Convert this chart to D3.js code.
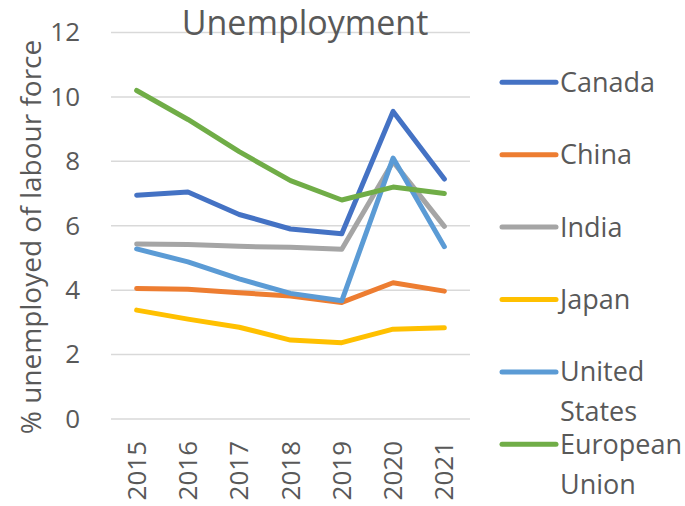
<!DOCTYPE html>
<html>
<head>
<meta charset="utf-8">
<script src="https://cdn.jsdelivr.net/npm/d3@7"></script>
<style>
  html, body { margin: 0; padding: 0; background: #fff; }
  svg { display: block; font-family: "Open Sans", "Noto Sans", sans-serif; }
</style>
</head>
<body>
<svg id="chart" width="685" height="506"></svg>
<script>
// Unemployment rate, % of labour force
const years = ["2015", "2016", "2017", "2018", "2019", "2020", "2021"];
const seriesNames = ["Canada", "China", "India", "Japan", "United States", "European Union"];
const canada = [6.95, 7.05, 6.35, 5.9, 5.75, 9.55, 7.45];
const china  = [4.05, 4.03, 3.92, 3.82, 3.62, 4.23, 3.97];
const india  = [5.43, 5.42, 5.36, 5.33, 5.27, 7.99, 5.98];
const japan  = [3.38, 3.1, 2.85, 2.45, 2.37, 2.79, 2.83];
const usa    = [5.28, 4.88, 4.35, 3.9, 3.67, 8.1, 5.35];
const eu     = [10.2, 9.3, 8.3, 7.4, 6.8, 7.2, 7.0];
const yTicks = [0, 2, 4, 6, 8, 10, 12];
const colors = ["#4472C4", "#ED7D31", "#A5A5A5", "#FFC000", "#5B9BD5", "#70AD47"];

const seriesValues = [canada, china, india, japan, usa, eu];
const series = seriesNames.map((name, i) => ({ name, values: seriesValues[i], color: colors[i] }));

const svg = d3.select("#chart");
const textColor = "#595959";

const plot = { left: 111, right: 470, top: 32.5, bottom: 419 };

const x = d3.scaleBand().domain(years).range([plot.left, plot.right]);
const y = d3.scaleLinear().domain([0, 12]).range([plot.bottom, plot.top]);

// horizontal gridlines
svg.append("g")
  .selectAll("line")
  .data(yTicks)
  .join("line")
  .attr("x1", plot.left).attr("x2", plot.right)
  .attr("y1", d => y(d)).attr("y2", d => y(d))
  .attr("stroke", "#D9D9D9").attr("stroke-width", 1.5);

// y axis labels
const yAxis = d3.axisLeft(y).tickValues(yTicks).tickSize(0).tickPadding(0);
svg.append("g")
  .attr("transform", `translate(80,0)`)
  .call(yAxis)
  .call(g => g.select(".domain").remove())
  .call(g => g.selectAll("text")
    .attr("fill", textColor)
    .style("font-size", "26px")
    .style("font-family", "\"Open Sans\", sans-serif"));

// x axis labels (rotated)
const xAxis = d3.axisBottom(x).tickSize(0).tickPadding(0);
svg.append("g")
  .attr("transform", `translate(0,${plot.bottom})`)
  .call(xAxis)
  .call(g => g.select(".domain").remove())
  .call(g => g.selectAll("text")
    .attr("fill", textColor)
    .style("font-size", "26px")
    .style("font-family", "\"Open Sans\", sans-serif")
    .attr("transform", "rotate(-90)")
    .attr("text-anchor", "end")
    .attr("x", -22)
    .attr("y", 0)
    .attr("dy", "0.35em"));

// y axis title
svg.append("text")
  .attr("transform", `translate(31,237) rotate(-90)`)
  .attr("text-anchor", "middle")
  .attr("dy", "0.35em")
  .attr("fill", textColor)
  .style("font-size", "28px")
  .text("% unemployed of labour force");

// chart title
svg.append("text")
  .attr("x", 305).attr("y", 35)
  .attr("text-anchor", "middle")
  .attr("fill", textColor)
  .style("font-size", "34px")
  .text("Unemployment");

// lines
const line = d3.line()
  .x((d, i) => x(years[i]) + x.bandwidth() / 2)
  .y(d => y(d));

svg.append("g")
  .selectAll("path")
  .data(series)
  .join("path")
  .attr("d", d => line(d.values))
  .attr("fill", "none")
  .attr("stroke", d => d.color)
  .attr("stroke-width", 5)
  .attr("stroke-linejoin", "round")
  .attr("stroke-linecap", "round");

// legend
const legendLabels = [["Canada"], ["China"], ["India"], ["Japan"], ["United", "States"], ["European", "Union"]];
const legend = svg.append("g");
const rowY = i => 82.3 + i * 72.4;
series.forEach((s, i) => {
  const g = legend.append("g").attr("transform", `translate(0,${rowY(i)})`);
  g.append("line")
    .attr("x1", 502).attr("x2", 556)
    .attr("stroke", s.color).attr("stroke-width", 5)
    .attr("stroke-linecap", "round");
  const t = g.append("text")
    .attr("x", 560)
    .attr("fill", textColor)
    .style("font-size", "27px");
  legendLabels[i].forEach((part, k) => {
    t.append("tspan").attr("x", 560).attr("y", k * 40).attr("dy", "0.35em").text(part);
  });
});
</script>
</body>
</html>
